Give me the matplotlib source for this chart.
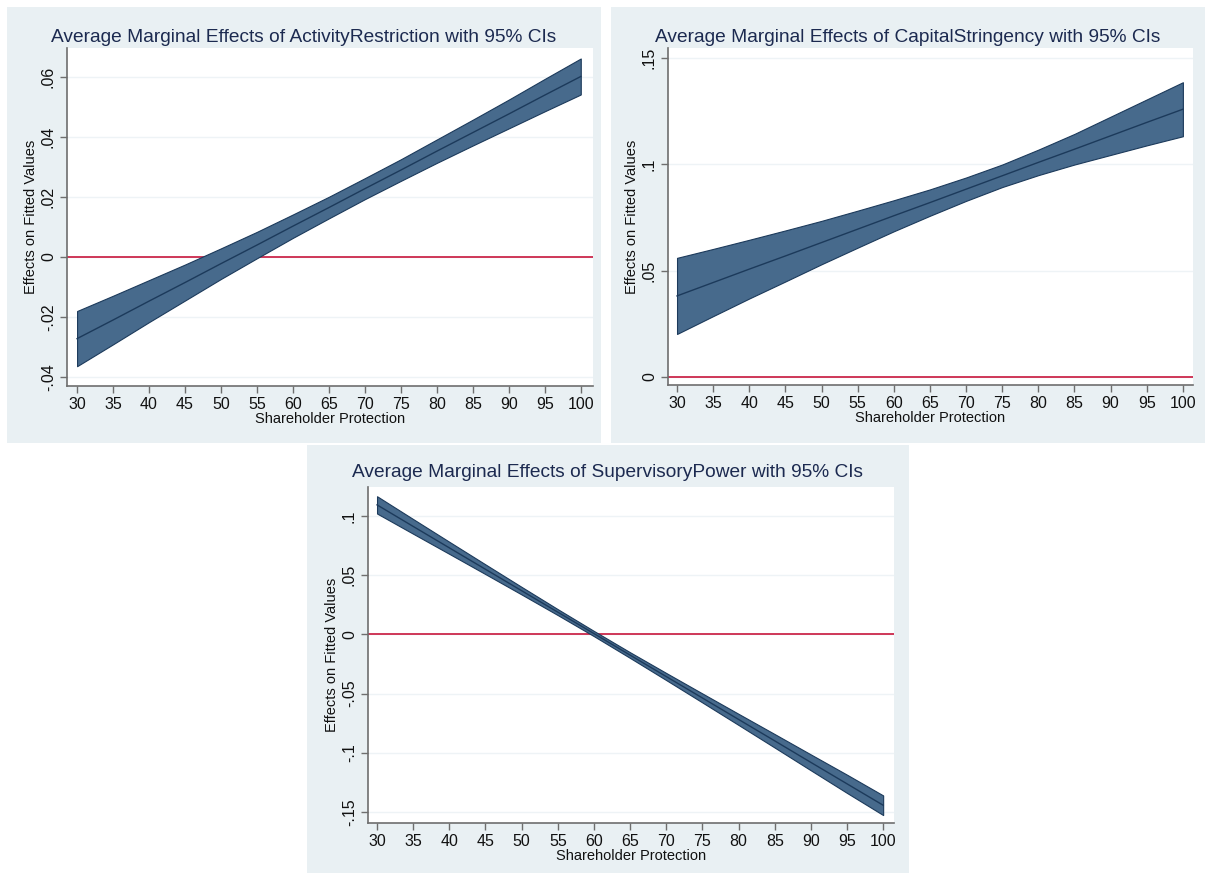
import matplotlib.pyplot as plt
from matplotlib.patches import Rectangle

# Shareholder protection levels where margins were evaluated
shareholder = [30, 35, 40, 45, 50, 55, 60, 65, 70, 75, 80, 85, 90, 95, 100]

# ActivityRestriction
act_mean = [-0.0272, -0.0210, -0.0147, -0.0085, -0.0022, 0.0040, 0.0103, 0.0165,
            0.0228, 0.0290, 0.0353, 0.0415, 0.0477, 0.0540, 0.0602]
act_upper = [-0.0180, -0.0129, -0.0077, -0.0025, 0.0029, 0.0084, 0.0142, 0.0201,
             0.0263, 0.0326, 0.0392, 0.0458, 0.0525, 0.0594, 0.0662]
act_lower = [-0.0364, -0.0291, -0.0217, -0.0145, -0.0073, -0.0004, 0.0064, 0.0129,
             0.0193, 0.0254, 0.0314, 0.0372, 0.0429, 0.0486, 0.0542]

# CapitalStringency
cap_mean = [0.0381, 0.0444, 0.0507, 0.0569, 0.0632, 0.0695, 0.0758, 0.0820,
            0.0883, 0.0946, 0.1009, 0.1071, 0.1134, 0.1197, 0.1259]
cap_upper = [0.0560, 0.0602, 0.0645, 0.0689, 0.0734, 0.0782, 0.0831, 0.0882,
             0.0938, 0.0999, 0.1069, 0.1143, 0.1224, 0.1305, 0.1386]
cap_lower = [0.0202, 0.0286, 0.0369, 0.0449, 0.0530, 0.0608, 0.0685, 0.0758,
             0.0828, 0.0893, 0.0949, 0.0999, 0.1044, 0.1089, 0.1132]

# SupervisoryPower
sup_mean = [0.1094, 0.0912, 0.0731, 0.0550, 0.0369, 0.0188, 0.0007, -0.0175,
            -0.0356, -0.0537, -0.0718, -0.0899, -0.1081, -0.1262, -0.1443]
sup_upper = [0.1167, 0.0974, 0.0782, 0.0591, 0.0401, 0.0213, 0.0029, -0.0151,
             -0.0326, -0.0499, -0.0671, -0.0842, -0.1014, -0.1185, -0.1360]
sup_lower = [0.1021, 0.0850, 0.0680, 0.0509, 0.0337, 0.0163, -0.0015, -0.0199,
             -0.0386, -0.0575, -0.0765, -0.0956, -0.1148, -0.1339, -0.1526]

x_ticks = [30, 35, 40, 45, 50, 55, 60, 65, 70, 75, 80, 85, 90, 95, 100]
act_yticks = [-0.04, -0.02, 0, 0.02, 0.04, 0.06]
act_ylabels = ["-.04", "-.02", "0", ".02", ".04", ".06"]
cap_yticks = [0, 0.05, 0.1, 0.15]
cap_ylabels = ["0", ".05", ".1", ".15"]
sup_yticks = [-0.15, -0.1, -0.05, 0, 0.05, 0.1]
sup_ylabels = ["-.15", "-.1", "-.05", "0", ".05", ".1"]

plt.rcParams['font.family'] = ['Liberation Sans', 'DejaVu Sans']

BG = "#e9f0f3"
FILL = "#476a8c"
EDGE = "#1c3a5b"
RED = "#c8163c"
TITLE_C = "#1c2a50"
W, H = 1205, 873

fig = plt.figure(figsize=(12.05, 8.73), dpi=100)
fig.patch.set_facecolor("white")


def px_box(x0, y0, x1, y1):
    # pixel box (top-left origin) -> figure fraction [left, bottom, width, height]
    return [x0 / W, (H - y1) / H, (x1 - x0) / W, (y1 - y0) / H]


def panel(bg, ax_box, title, title_y, mean, lower, upper, yticks, ylabels, xlim, ylim):
    b = px_box(*bg)
    fig.add_artist(Rectangle((b[0], b[1]), b[2], b[3], transform=fig.transFigure,
                             facecolor=BG, edgecolor="none", zorder=0))
    ax = fig.add_axes(px_box(*ax_box))
    ax.set_facecolor("white")
    ax.fill_between(shareholder, lower, upper, facecolor=FILL, edgecolor=EDGE,
                    linewidth=0.8, zorder=3)
    ax.plot(shareholder, mean, color=EDGE, linewidth=1.0, zorder=4)
    ax.axhline(0, color=RED, linewidth=1.2, zorder=2)
    ax.set_xlim(*xlim)
    ax.set_ylim(*ylim)
    ax.set_xticks(x_ticks)
    ax.set_yticks(yticks)
    ax.set_yticklabels(ylabels, rotation=90, va="center")
    ax.yaxis.grid(True, color="#eef3f6", linewidth=1.0)
    ax.set_axisbelow(True)
    for s in ["top", "right"]:
        ax.spines[s].set_visible(False)
    for s in ["left", "bottom"]:
        ax.spines[s].set_color("#6e6e6e")
        ax.spines[s].set_linewidth(1.2)
    ax.tick_params(axis="both", direction="out", length=5, width=1, color="#6e6e6e",
                   labelsize=11.5, labelcolor="#111111", pad=3)
    ax.set_xlabel("Shareholder Protection", fontsize=10.5, labelpad=0, color="#111111")
    ax.set_ylabel("Effects on Fitted Values", fontsize=10.5, labelpad=2, color="#111111")
    cx = (bg[0] + bg[2]) / 2 / W
    fig.text(cx, (H - title_y) / H, title, ha="center", va="baseline",
             fontsize=13.8, color=TITLE_C)
    return ax


panel((7, 7, 601, 443), (67, 48, 593, 386),
      "Average Marginal Effects of ActivityRestriction with 95% CIs", 42,
      act_mean, act_lower, act_upper, act_yticks, act_ylabels,
      (28.6, 101.7), (-0.043, 0.0697))

panel((611, 7, 1205, 443), (668, 48, 1193, 385),
      "Average Marginal Effects of CapitalStringency with 95% CIs", 42,
      cap_mean, cap_lower, cap_upper, cap_yticks, cap_ylabels,
      (28.75, 101.4), (-0.0038, 0.1547))

panel((307, 445, 909, 873), (368, 487, 894, 823),
      "Average Marginal Effects of SupervisoryPower with 95% CIs", 477,
      sup_mean, sup_lower, sup_upper, sup_yticks, sup_ylabels,
      (28.75, 101.5), (-0.1593, 0.1245))

plt.savefig("out.png", dpi=100, facecolor=fig.get_facecolor())
